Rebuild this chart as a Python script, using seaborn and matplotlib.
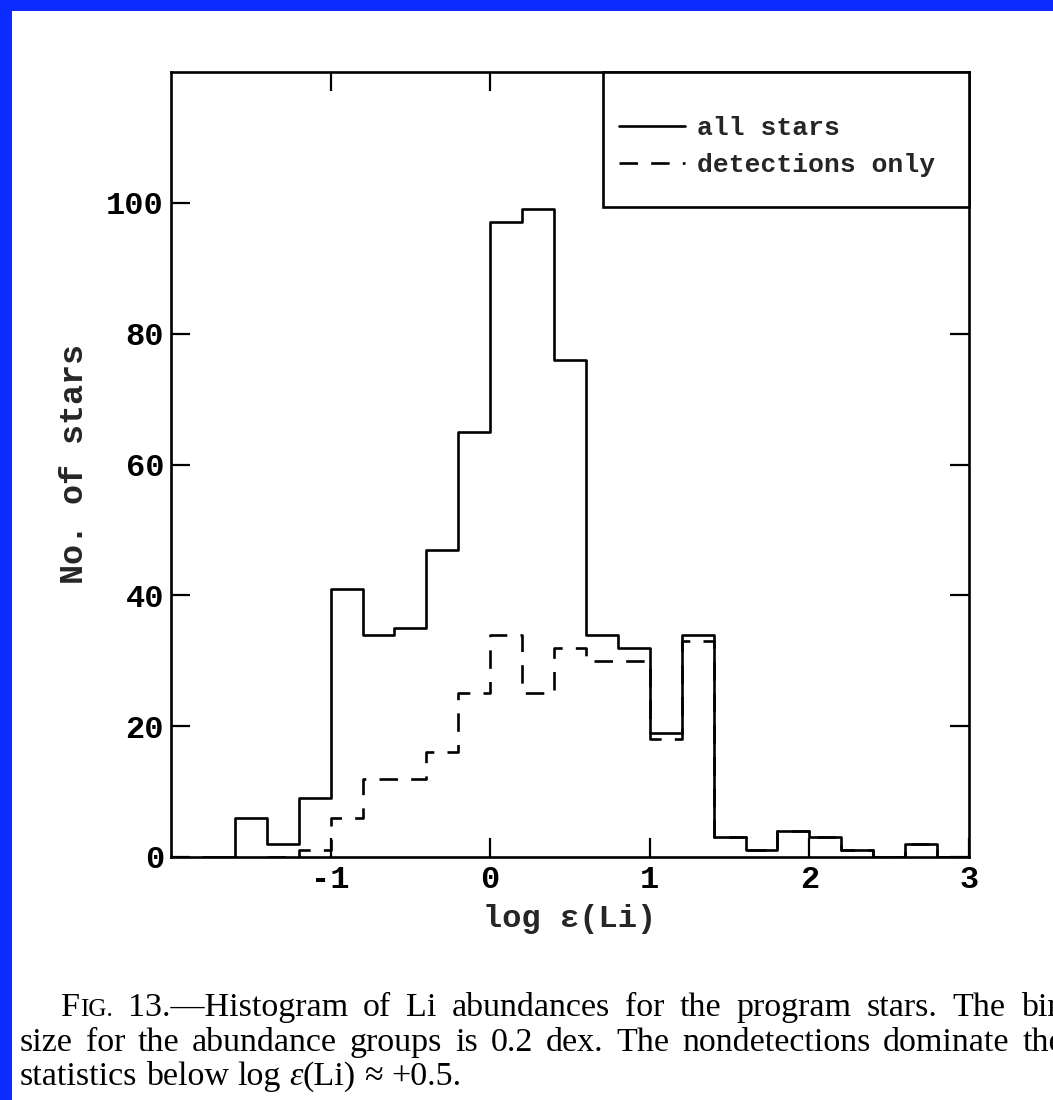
import matplotlib
matplotlib.use("Agg")
import matplotlib.pyplot as plt
import seaborn as sns
from matplotlib.lines import Line2D
from matplotlib.patches import Rectangle

# ---------------- data ----------------
# empty bins at both ends so that the step outline closes down to zero
bin_edges = [-1.8, -1.6, -1.4, -1.2, -1.0, -0.8, -0.6, -0.4, -0.2, 0.0, 0.2, 0.4, 0.6,
             0.8, 1.0, 1.2, 1.4, 1.6, 1.8, 2.0, 2.2, 2.4, 2.6, 2.8, 3.0]
centers_all = [-1.7, -1.5, -1.3, -1.1, -0.9, -0.7, -0.5, -0.3, -0.1, 0.1, 0.3, 0.5,
               0.7, 0.9, 1.1, 1.3, 1.5, 1.7, 1.9, 2.1, 2.3, 2.5, 2.7, 2.9]
counts_all = [0, 6, 2, 9, 41, 34, 35, 47, 65, 97, 99, 76,
              34, 32, 19, 34, 3, 1, 4, 3, 1, 0, 2, 0]
det_edges = [-1.4, -1.2, -1.0, -0.8, -0.6, -0.4, -0.2, 0.0, 0.2, 0.4, 0.6,
             0.8, 1.0, 1.2, 1.4, 1.6, 1.8, 2.0, 2.2, 2.4, 2.6, 2.8, 3.0]
centers_det = [-1.3, -1.1, -0.9, -0.7, -0.5, -0.3, -0.1, 0.1, 0.3, 0.5, 0.7,
               0.9, 1.1, 1.3, 1.5, 1.7, 1.9, 2.1, 2.3, 2.5, 2.7, 2.9]
counts_det = [0, 1, 6, 12, 12, 16, 25, 34, 25, 32, 30,
              30, 18, 33, 3, 1, 4, 3, 1, 0, 2, 0]
x_ticks = [-1, 0, 1, 2, 3]
y_ticks = [0, 20, 40, 60, 80, 100]
legend_labels = ["all stars", "detections only"]
x_label = "log ε(Li)"
y_label = "No. of stars"

# ---------------- style ----------------
sns.set_style("ticks")
MONO = ["Liberation Mono", "DejaVu Sans Mono"]
SERIF = ["Liberation Serif", "DejaVu Serif"]
plt.rcParams["font.family"] = MONO
plt.rcParams["font.weight"] = "bold"
LW = 1.9
DASH = (0, (7.0, 5.0))

W, H = 1053, 1100
fig = plt.figure(figsize=(W / 100, H / 100), dpi=100)
fig.patch.set_facecolor("white")

# blue frame of the slide (top and left strips)
blue = "#0b2bff"
fig.add_artist(Rectangle((0, 1 - 11 / H), 1, 11 / H, transform=fig.transFigure,
                         facecolor=blue, edgecolor="none", zorder=10))
fig.add_artist(Rectangle((0, 0), 12 / W, 1, transform=fig.transFigure,
                         facecolor=blue, edgecolor="none", zorder=10))

ax_l, ax_r, ax_t, ax_b = 171, 969, 72, 857
AW, AH = ax_r - ax_l, ax_b - ax_t
ax = fig.add_axes([ax_l / W, 1 - ax_b / H, AW / W, AH / H])

sns.histplot(x=centers_all, weights=counts_all, bins=bin_edges, element="step",
             fill=False, color="black", linewidth=LW, ax=ax)
sns.histplot(x=centers_det, weights=counts_det, bins=det_edges, element="step",
             fill=False, color="black", linewidth=LW, linestyle=DASH, ax=ax)

ax.set_xlim(-2, 3)
ax.set_ylim(0, 120)
ax.set_xticks(x_ticks)
ax.set_xticklabels([str(v) for v in x_ticks])
ax.set_yticks(y_ticks)
ax.tick_params(direction="in", length=14, width=1.6, top=True, right=True,
               labelsize=23, colors="black")
ax.tick_params(axis="x", pad=6)
ax.tick_params(axis="y", pad=5)
for s in ax.spines.values():
    s.set_linewidth(LW)
    s.set_color("black")

ax.set_xlabel(x_label, fontsize=23, fontweight="bold", labelpad=6)
ax.set_ylabel(y_label, fontsize=24, fontweight="bold", labelpad=12)

# legend: box in the upper-right corner, entries placed inside it
box_l, box_b = 603, 207
ax.add_patch(Rectangle(((box_l - ax_l) / AW, (ax_b - box_b) / AH),
                       1 - (box_l - ax_l) / AW, (box_b - ax_t) / AH,
                       transform=ax.transAxes, facecolor="white",
                       edgecolor="black", linewidth=LW, zorder=4, clip_on=False))
handles = [Line2D([], [], color="black", lw=LW),
           Line2D([], [], color="black", lw=LW, linestyle=DASH)]
leg = ax.legend(handles, legend_labels, loc="upper left",
                bbox_to_anchor=((619 - ax_l) / AW, (ax_b - 116) / AH),
                borderaxespad=0, borderpad=0, frameon=False,
                handlelength=2.5, handletextpad=0.45, labelspacing=0.5,
                prop={"family": MONO, "weight": "bold", "size": 19})
leg.set_zorder(6)

# ---------------- caption ----------------
renderer = fig.canvas.get_renderer()
CAP = 24.5


def px(x, y):
    return x / W, 1 - y / H


def measure(s, size, style="normal"):
    t = fig.text(0, 0, s, fontsize=size, family=SERIF, fontweight="normal",
                 fontstyle=style)
    w = t.get_window_extent(renderer).width
    t.remove()
    return w


def draw_words(words, x0, ybase, x1=None):
    # words: list of list of (text, size, style)
    widths = [sum(measure(s, sz, st) for s, sz, st in w) for w in words]
    space = 0.25 * CAP * 100 / 72
    total = sum(widths) + space * (len(words) - 1)
    if x1 is not None and total < x1 - x0 and len(words) > 1:
        space = (x1 - x0 - sum(widths)) / (len(words) - 1)
    x = x0
    for w, wd in zip(words, widths):
        xx = x
        for s, sz, st in w:
            fx, fy = px(xx, ybase)
            fig.text(fx, fy, s, fontsize=sz, family=SERIF, fontweight="normal",
                     fontstyle=st, va="baseline", ha="left", color="black")
            xx += measure(s, sz, st)
        x += wd + space


def simple(line):
    return [[(w, CAP, "normal")] for w in line.split()]


line1 = [[("F", CAP, "normal"), ("IG.", CAP * 0.74, "normal")]] + \
    simple("13.—Histogram of Li abundances for the program stars. The bin")
line2 = simple("size for the abundance groups is 0.2 dex. The nondetections dominate the")
line3 = simple("statistics below log") + \
    [[("ε", CAP, "italic"), ("(Li)", CAP, "normal")]] + simple("≈ +0.5.")

draw_words(line1, 61, 1016, 1064)
draw_words(line2, 20, 1051, 1064)
draw_words(line3, 20, 1085)

fig.savefig("out.png", dpi=100, facecolor="white")
